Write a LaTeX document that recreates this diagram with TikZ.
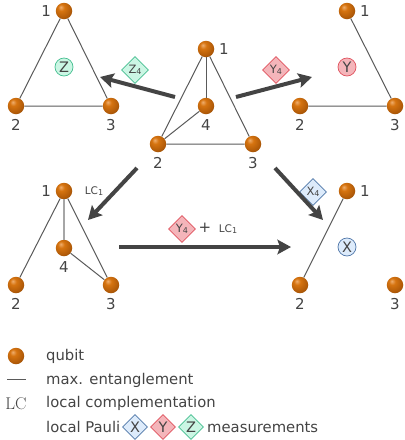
\documentclass[tikz,border=0pt]{standalone}
\usepackage{fontspec}
\setsansfont{DejaVu Sans}
\usetikzlibrary{arrows.meta,shapes.geometric}
\definecolor{txtgray}{HTML}{444444}
\definecolor{edgegray}{HTML}{5A5A5A}
\definecolor{xfill}{HTML}{DDEBFB}
\definecolor{xdraw}{HTML}{4F76A8}
\definecolor{yfill}{HTML}{F4B5BA}
\definecolor{ydraw}{HTML}{E0525E}
\definecolor{zfill}{HTML}{CBF6E4}
\definecolor{zdraw}{HTML}{45BE90}
\definecolor{ballhi}{HTML}{EFAE6E}
\definecolor{ballmid}{HTML}{D67410}
\definecolor{balllow}{HTML}{B05A08}
\definecolor{ballrim}{HTML}{663603}
\pgfdeclareradialshading{qubitball}{\pgfpoint{-10bp}{12bp}}{%
    color(0bp)=(ballhi);
    color(10bp)=(ballmid);
    color(28bp)=(balllow);
    color(48bp)=(ballrim);
    color(70bp)=(ballrim)}
\tikzset{
    qubit/.style={circle, minimum size=16.5pt, inner sep=0pt, shading=qubitball},
    num/.style={text=txtgray, font=\sffamily\fontsize{15}{16}\selectfont, inner sep=4.5pt},
    edge/.style={draw=edgegray, line width=1pt},
    fatarrow/.style={draw=txtgray, line width=4pt, -{Stealth[length=13.5pt,width=14.5pt,inset=2.5pt]}},
    txt/.style={text=txtgray, font=\sffamily\fontsize{14.8}{16}\selectfont, anchor=base west, inner sep=0pt},
    small/.style={text=txtgray, font=\sffamily\fontsize{10.5}{11}\selectfont, inner sep=0pt},
    pauli/.style={diamond, draw, line width=0.7pt, aspect=1, inner sep=0pt, minimum size=27pt, text=txtgray, font=\sffamily\fontsize{11.5}{12}\selectfont},
    res/.style={circle, draw, line width=0.7pt, inner sep=0pt, minimum size=18pt, text=txtgray, font=\sffamily\fontsize{14.5}{15}\selectfont},
    xcol/.style={fill=xfill, draw=xdraw},
    ycol/.style={fill=yfill, draw=ydraw},
    zcol/.style={fill=zfill, draw=zdraw},
}
\newcommand{\sub}[1]{\raisebox{-1.5pt}{\fontsize{8}{9}\selectfont #1}}
\begin{document}
\begin{tikzpicture}[x=1pt, y=-1pt]
    \useasboundingbox (0,0) rectangle (405,440);

    % Z measurement result
    \node[qubit, label={[num]left:1}] (zone) at (64,11) {};
    \node[qubit, label={[num]below:2}] (ztwo) at (16,106) {};
    \node[qubit, label={[num]below:3}] (zthree) at (111,106) {};
    \draw[edge] (zone) -- (ztwo) -- (zthree) -- (zone);
    \node[res, zcol] (zres) at (64,67) {Z};

    % initial state
    \node[qubit, label={[num]right:1}] (cone) at (206,49) {};
    \node[qubit, label={[num]below:2}] (ctwo) at (158,144) {};
    \node[qubit, label={[num]below:3}] (cthree) at (253,144) {};
    \node[qubit, label={[num]below:4}] (cfour) at (206,106) {};
    \draw[edge] (cone) -- (ctwo) -- (cthree) -- (cone);
    \draw[edge] (cone) -- (cfour);
    \draw[edge] (ctwo) -- (cfour);

    % Y measurement result
    \node[qubit, label={[num]right:1}] (yone) at (347,11) {};
    \node[qubit, label={[num]below:2}] (ytwo) at (300,106) {};
    \node[qubit, label={[num]below:3}] (ythree) at (395,106) {};
    \draw[edge] (yone) -- (ythree) -- (ytwo);
    \node[res, ycol] (yres) at (347,67) {Y};

    % after LC
    \node[qubit, label={[num]left:1}] (lone) at (64,191) {};
    \node[qubit, label={[num]below:2}] (ltwo) at (16,285) {};
    \node[qubit, label={[num]below:3}] (lthree) at (111,285) {};
    \node[qubit, label={[num]below:4}] (lfour) at (64,248) {};
    \draw[edge] (lone) -- (ltwo);
    \draw[edge] (lone) -- (lthree) -- (lfour);
    \draw[draw=gray!70, line width=1.4pt] (lone) -- (lfour);
    \node[small] (lclabel) at (94,191) {LC\sub{1}};

    % X measurement result
    \node[qubit, label={[num]right:1}] (xone) at (347,191) {};
    \node[qubit, label={[num]below:2}] (xtwo) at (300,285) {};
    \node[qubit, label={[num]below:3}] (xthree) at (395,285) {};
    \draw[edge] (xone) -- (xtwo);
    \node[res, xcol] (xres) at (347,247) {X};

    % measurement labels
    \node[pauli, zcol] (zmeas) at (135,70) {Z\sub{4}};
    \node[pauli, ycol] (ymeas) at (276,70) {Y\sub{4}};
    \node[pauli, xcol] (xmeas) at (313,192) {X\sub{4}};
    \node[pauli, ycol] (ymeastwo) at (182,229) {Y\sub{4}};
    \node[text=txtgray, font=\sffamily\fontsize{15}{16}\selectfont] (plus) at (205,228) {+};
    \node[small] (lclabeltwo) at (228,229) {LC\sub{1}};

    % arrows
    \coordinate (zstart) at (175,97);
    \coordinate (zend) at (100,77);
    \coordinate (ystart) at (236,97);
    \coordinate (yend) at (312,77);
    \coordinate (lstart) at (137,168);
    \coordinate (lend) at (88,220);
    \coordinate (xstart) at (275,168);
    \coordinate (xend) at (323,220);
    \coordinate (hstart) at (119,247);
    \coordinate (hend) at (291,247);
    \draw[fatarrow] (zstart) -- (zend);
    \draw[fatarrow] (ystart) -- (yend);
    \draw[fatarrow] (lstart) -- (lend);
    \draw[fatarrow] (xstart) -- (xend);
    \draw[fatarrow] (hstart) -- (hend);

    % legend
    \node[qubit] (legqubit) at (16,356) {};
    \node[txt] (legqubittxt) at (46,360) {qubit};
    \coordinate (leglinea) at (7,379);
    \coordinate (leglineb) at (26,379);
    \draw[edge] (leglinea) -- (leglineb);
    \node[txt] (leglinetxt) at (46,384) {max. entanglement};
    \node[text=txtgray, font=\fontsize{17}{18}\selectfont, inner sep=0pt] (leglc) at (16,404) {LC};
    \node[txt] (leglctxt) at (46,407) {local complementation};
    \node[txt] (legpauli) at (46,432) {local Pauli};
    \node[pauli, xcol, minimum size=25pt, font=\sffamily\fontsize{14.5}{15}\selectfont] (legx) at (135,427) {X};
    \node[pauli, ycol, minimum size=25pt, font=\sffamily\fontsize{14.5}{15}\selectfont] (legy) at (163,427) {Y};
    \node[pauli, zcol, minimum size=25pt, font=\sffamily\fontsize{14.5}{15}\selectfont] (legz) at (191,427) {Z};
    \node[txt] (legmeas) at (207,432) {measurements};
\end{tikzpicture}
\end{document}
